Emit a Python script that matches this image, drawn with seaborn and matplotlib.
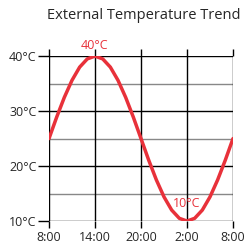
import pandas as pd
import numpy as np
import matplotlib
matplotlib.use("Agg")
import matplotlib.pyplot as plt
import seaborn as sns

# hourly readings starting at 8:00, ending 8:00 next day
hours = list(range(25))
temps = [25, 28.9, 32.5, 35.6, 38, 39.5, 40, 39.5, 38, 35.6, 32.5, 28.9,
         25, 21.1, 17.5, 14.4, 12, 10.5, 10, 10.5, 12, 14.4, 17.5, 21.1, 25]
tick_pos = [0, 6, 12, 18, 24]
tick_labels = ["8:00", "14:00", "20:00", "2:00", "8:00"]
y_major = [10, 20, 30, 40]
y_minor = [15, 25, 35]

sns.set_style("white")
plt.rcParams['font.family'] = ['Open Sans', 'DejaVu Sans']

df = pd.DataFrame({'hour': hours, 'temp': temps})
red = '#e8313a'

fig = plt.figure(figsize=(2.45, 2.44), dpi=100)
ax = fig.add_axes([0.2, 0.094, 0.751, 0.676])

for y in y_minor:
    ax.axhline(y, color='#888888', lw=1, zorder=1)
for y in y_major:
    ax.axhline(y, color='black', lw=1, zorder=1)
for x in tick_pos:
    ax.axvline(x, color='black', lw=1, zorder=1)

sns.lineplot(data=df, x='hour', y='temp', color=red, lw=2.5, ax=ax, zorder=3)

ax.set_xlim(0, 24)
ax.set_ylim(10, 40)
ax.set_xticks(tick_pos)
ax.set_xticklabels(tick_labels)
ax.set_yticks(y_major)
ax.set_yticklabels([f"{v}°C" for v in y_major])
for s in ax.spines.values():
    s.set_visible(False)
ax.tick_params(axis='x', top=True, bottom=True, length=5, width=1, color='black',
               labelsize=9, pad=2, direction='out')
ax.tick_params(axis='y', left=True, length=8, width=1, color='black',
               labelsize=9, pad=1)
ax.set_xlabel('')
ax.set_ylabel('')

imax = int(np.argmax(temps))
imin = int(np.argmin(temps))
ax.annotate(f"{temps[imax]:.0f}°C", (hours[imax], temps[imax]), xytext=(0, 3),
            textcoords='offset points', ha='center', va='bottom', color=red, fontsize=9)
ax.annotate(f"{temps[imin]:.0f}°C", (hours[imin], temps[imin]), xytext=(0, 8),
            textcoords='offset points', ha='center', va='bottom', color=red, fontsize=9)

fig.text(0.585, 0.935, "External Temperature Trend", ha='center', va='center', fontsize=10.5)

fig.savefig('out.png', dpi=100)
